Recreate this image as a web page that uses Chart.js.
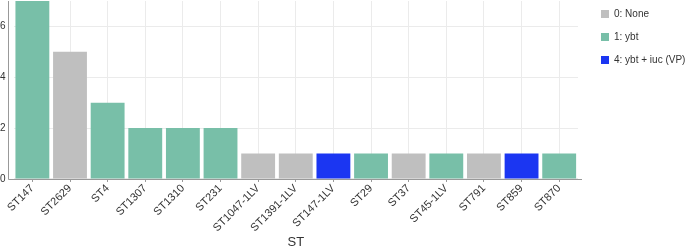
<!DOCTYPE html>
<html><head><meta charset="utf-8">
<script src="https://cdn.jsdelivr.net/npm/chart.js@4/dist/chart.umd.min.js"></script>
<style>html,body{margin:0;padding:0;background:#fff}#wrap{width:685px;height:250px}</style>
</head><body><div id="wrap"><canvas id="c"></canvas></div>
<script>
const categories = ["ST147","ST2629","ST4","ST1307","ST1310","ST231","ST1047-1LV","ST1391-1LV","ST147-1LV","ST29","ST37","ST45-1LV","ST791","ST859","ST870"];
const counts = [7,5,3,2,2,2,1,1,1,1,1,1,1,1,1];
const groups = [1,0,1,1,1,1,0,0,4,1,0,1,0,4,1];
const groupKeys = [0,1,4];
const groupLabels = ["0: None","1: ybt","4: ybt + iuc (VP)"];
const groupColors = ["#bfbfbf","#78bfa8","#1b36f2"];
const yTicks = [0,2,4,6];

const datasets = groupKeys.map((g,i)=>({
  label: groupLabels[i],
  data: counts.map((v,j)=> groups[j]===g ? v : null),
  backgroundColor: groupColors[i],
  borderWidth: 0,
  barPercentage: 0.9,
  categoryPercentage: 1.0,
  grouped: false
}));

const axisLines = {
  id:'axisLines',
  afterDatasetsDraw(chart){
    const {ctx, chartArea:a} = chart;
    ctx.save();
    ctx.strokeStyle = '#999';
    ctx.lineWidth = 1;
    const x0 = Math.round(a.left - 6) + 0.5;
    const yb = Math.round(a.bottom) + 0.5;
    ctx.beginPath();
    ctx.moveTo(x0, a.top); ctx.lineTo(x0, yb);
    ctx.lineTo(a.right + 4, yb);
    ctx.stroke();
    ctx.restore();
  }
};
const legendTweak = {
  id:'legendTweak',
  beforeInit(chart){
    const lg = chart.legend;
    const orig = lg.fit;
    lg.fit = function(){ orig.call(this); this.width = 107; };
  },
  afterLayout(chart){
    const lg = chart.legend;
    lg.left += 10; lg.right += 10;
    lg.top -= 5; lg.bottom -= 5;
  }
};

new Chart(document.getElementById('c'), {
  type:'bar',
  data:{ labels: categories, datasets },
  options:{
    responsive:true, maintainAspectRatio:false, animation:false,
    layout:{ padding:{ top:1, left:0, right:0, bottom:0 } },
    scales:{
      x:{
        grid:{ color:'#ebebeb', offset:false, tickLength:3, tickColor:'#999' },
        border:{ display:false },
        ticks:{ autoSkip:false, minRotation:45, maxRotation:45, color:'#333', font:{ family:'Liberation Sans, Arial, sans-serif', size:11 }, padding:0 },
        title:{ display:true, text:'ST', color:'#333', font:{ family:'Liberation Sans, Arial, sans-serif', size:13 }, padding:{top:0,bottom:0} }
      },
      y:{
        min:0, max:7,
        afterBuildTicks(s){ s.ticks = yTicks.map(v=>({value:v})); },
        afterFit(s){ s.paddingTop = 0; },
        grid:{ color:'#ebebeb', tickLength:8, tickColor:'rgba(0,0,0,0)' },
        border:{ display:false },
        ticks:{ color:'#333', padding:0, font:{ family:'Liberation Sans, Arial, sans-serif', size:10 } }
      }
    },
    plugins:{
      legend:{
        position:'right', align:'start',
        labels:{ boxWidth:8, boxHeight:8, padding:13, color:'#333', font:{ family:'Liberation Sans, Arial, sans-serif', size:10 } }
      },
      tooltip:{ enabled:false }
    }
  },
  plugins:[axisLines, legendTweak]
});
</script></body></html>
